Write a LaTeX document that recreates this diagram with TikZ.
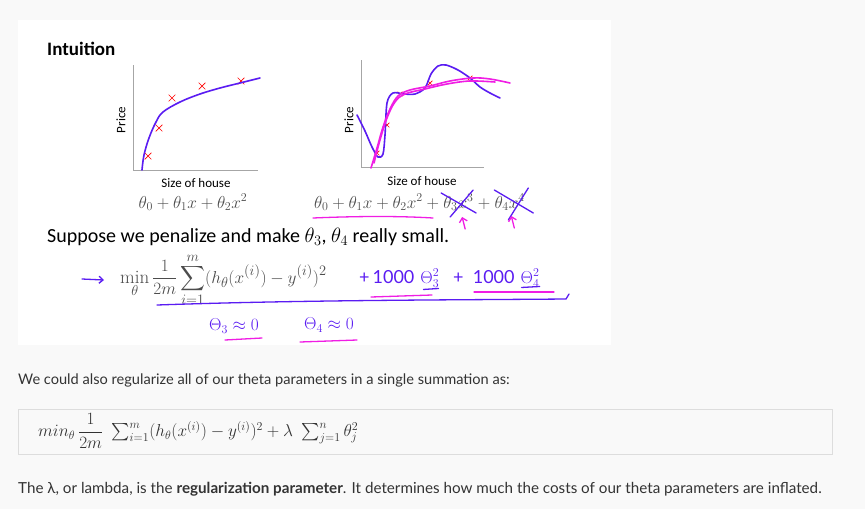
\documentclass[tikz,border=0pt]{standalone}
\usepackage{fontspec}
\usepackage{amsmath}
\usetikzlibrary{arrows.meta,positioning,shapes.misc}
\newfontfamily\slidefont{Carlito}
\newfontfamily\webfont{Lato}
\definecolor{pagegray}{HTML}{F9F9F9}
\definecolor{boxline}{HTML}{DDDDDD}
\definecolor{axisgray}{HTML}{A6A6A6}
\definecolor{inkblue}{HTML}{5A1CF2}
\definecolor{inkpink}{HTML}{F01DE4}
\definecolor{webtext}{HTML}{333333}
\tikzset{
  headtxt/.style={font={\slidefont\bfseries\fontsize{19}{23}\selectfont},inner sep=0pt,anchor=west},
  slidetxt/.style={font={\slidefont\fontsize{20}{24}\selectfont},inner sep=0pt,anchor=west},
  axislbl/.style={font={\slidefont\fontsize{13}{15}\selectfont},inner sep=0pt},
  slidemath/.style={font=\fontsize{17.5}{20}\selectfont,text=black!70,inner sep=0pt},
  plotaxis/.style={draw=axisgray,line width=0.8pt},
  fitcurve/.style={draw=inkblue,line width=1.6pt,line cap=round},
  pinkcurve/.style={draw=inkpink,line width=1.6pt,line cap=round},
  datax/.style={cross out,draw=red,line width=0.7pt,minimum size=6pt,inner sep=0pt},
  smallx/.style={datax,minimum size=4pt},
  inkline/.style={draw=inkblue,line width=1.3pt,line cap=round},
  pinkline/.style={draw=inkpink,line width=1.3pt,line cap=round},
  inktext/.style={font={\webfont\fontsize{18}{21}\selectfont},text=inkblue,inner sep=0pt},
  webtxt/.style={font={\webfont\fontsize{15}{18}\selectfont},text=webtext,inner sep=0pt,anchor=west},
  formbox/.style={draw=boxline,line width=0.8pt,minimum width=814pt,minimum height=45pt,inner sep=0pt},
}

\begin{document}
\begin{tikzpicture}[x=1pt,y=-1pt]
  % page and slide
  \fill[pagegray] (0,0) rectangle (865,509);
  \fill[white] (18,20) rectangle (611,345);
  \node[headtxt] (title) at (47,49) {Intuition};

  % left plot: quadratic fit
  \draw[plotaxis] (133,65) -- (133,170) -- (258,170);
  \node[axislbl,rotate=90] (lprice) at (121,120) {Price};
  \node[axislbl] (lsize) at (196,183) {Size of house};
  \node[datax] (lp1) at (148,156) {};
  \node[datax] (lp2) at (159,128) {};
  \node[datax] (lp3) at (172,98) {};
  \node[datax] (lp4) at (202,86) {};
  \node[datax] (lp5) at (241,81) {};
  \draw[fitcurve] plot[smooth,tension=0.6] coordinates {(142,170) (144,155) (149,138) (156,122) (163,112) (180,102) (200,94) (220,88) (240,83) (260,78)};
  \node[slidemath,anchor=base] (lpoly) at (193,208) {$\theta_0+\theta_1x+\theta_2x^2$};

  % right plot: quartic fit
  \draw[plotaxis] (361,60) -- (361,167) -- (484,167);
  \node[axislbl,rotate=90] (rprice) at (349,120) {Price};
  \node[axislbl] (rsize) at (422,181) {Size of house};
  \node[smallx] (rp1) at (377,153) {};
  \node[smallx] (rp2) at (387,125) {};
  \node[smallx] (rp3) at (400,94) {};
  \node[smallx] (rp4) at (430,83) {};
  \node[smallx] (rp5) at (470,78) {};
  \draw[fitcurve] plot[smooth,tension=0.5] coordinates {(357,115) (365,131) (372,147) (378,157) (383,154) (385,135) (387,103) (393,93) (404,94) (415,94) (425,88) (431,74) (438,66) (446,65) (458,70) (470,78) (480,87) (490,93) (500,98)};
  \draw[pinkcurve] plot[smooth,tension=0.6] coordinates {(371,168) (377,148) (383,127) (390,109) (398,96) (410,90) (430,86) (450,81) (473,78) (490,79) (510,83)};
  \draw[pinkcurve] plot[smooth,tension=0.6] coordinates {(374,163) (380,140) (387,118) (395,102) (405,94) (425,89) (447,84) (470,81) (495,82)};
  \node[slidemath,anchor=base west] (rpoly) at (314,208) {$\theta_0+\theta_1x+\theta_2x^2+{}$};
  \node[slidemath,anchor=base west] (rcube) at (rpoly.base east) {$\theta_3x^3$};
  \node[slidemath,anchor=base west] (rplus) at (rcube.base east) {${}+{}$};
  \node[slidemath,anchor=base west] (rquart) at (rplus.base east) {$\theta_4x^4$};
  \draw[inkline] ([shift={(-2,-15)}]rcube.base west) -- ([shift={(33,5)}]rcube.base west);
  \draw[inkline] ([shift={(30,-18)}]rcube.base west) -- ([shift={(7,9)}]rcube.base west);
  \draw[inkline] ([shift={(0,-18)}]rquart.base west) -- ([shift={(39,5)}]rquart.base west);
  \draw[inkline] ([shift={(34,-20)}]rquart.base west) -- ([shift={(14,12)}]rquart.base west);
  \draw[pinkline] (313,218) .. controls (360,216) and (400,216) .. (433,218);
  \coordinate (cubetail) at ([shift={(22,21)}]rcube.base west);
  \coordinate (cubehead) at ([shift={(19,9)}]rcube.base west);
  \coordinate (quarttail) at ([shift={(20,20)}]rquart.base west);
  \coordinate (quarthead) at ([shift={(17,8)}]rquart.base west);
  \draw[pinkline,-{Straight Barb[length=4pt,width=8pt]}] (cubetail) -- (cubehead);
  \draw[pinkline,-{Straight Barb[length=4pt,width=8pt]}] (quarttail) -- (quarthead);

  % penalized cost
  \node[slidetxt] (suppose) at (47,237) {Suppose we penalize and make $\theta_3$, $\theta_4$ really small.};
  \node[slidemath,anchor=base west,font=\fontsize{19}{22}\selectfont] (cost) at (120,283) {$\displaystyle\min_{\theta}\frac{1}{2m}\sum_{i=1}^{m}(h_\theta(x^{(i)})-y^{(i)})^2$};
  \coordinate (arrtail) at (82,279);
  \draw[inkline,-{Straight Barb[length=4pt,width=7pt]}] (arrtail) -- ([xshift=-16pt]cost.west);
  \node[inktext,anchor=base west] (pen3) at (359,283) {+\,1000\,\,$\Theta_3^2$};
  \node[inktext,anchor=base west] (pen4) at (453,283) {+\ \ 1000\,\,$\Theta_4^2$};
  \draw[inkline] (pen3.south east) ++(-16,2) -- ++(15,-1);
  \draw[inkline] (pen4.south east) ++(-18,0) -- ++(18,-1);
  \draw[pinkline] (371,297) -- (432,295);
  \draw[pinkline] (474,292) -- (554,292);
  \draw[inkline] (157,305) .. controls (300,300) and (450,300) .. (566,299) -- (569,294);
  \node[inktext] (small3) at (234,326) {$\Theta_3\approx0$};
  \node[inktext] (small4) at (329,325) {$\Theta_4\approx0$};
  \draw[pinkline] (225,340) -- (262,338);
  \draw[pinkline] (300,342) -- (357,340);

  % page text below the slide
  \node[webtxt,font={\webfont\fontsize{14.6}{18}\selectfont}] (alsotxt) at (18,380) {We could also regularize all of our theta parameters in a single summation as:};
  \node[formbox] (regbox) at (425,431.5) {};
  \node[anchor=west,inner sep=0pt,font=\fontsize{18}{21}\selectfont,text=webtext] (regform) at (38,431) {$min_\theta\,\dfrac{1}{2m}\ \sum_{i=1}^m(h_\theta(x^{(i)})-y^{(i)})^2+\lambda\ \sum_{j=1}^n\theta_j^2$};
  \node[webtxt,font={\webfont\fontsize{15.2}{18}\selectfont}] (lambdatxt) at (18,489) {The λ, or lambda, is the \textbf{regularization parameter}. It determines how much the costs of our theta parameters are inflated.};
\end{tikzpicture}
\end{document}
